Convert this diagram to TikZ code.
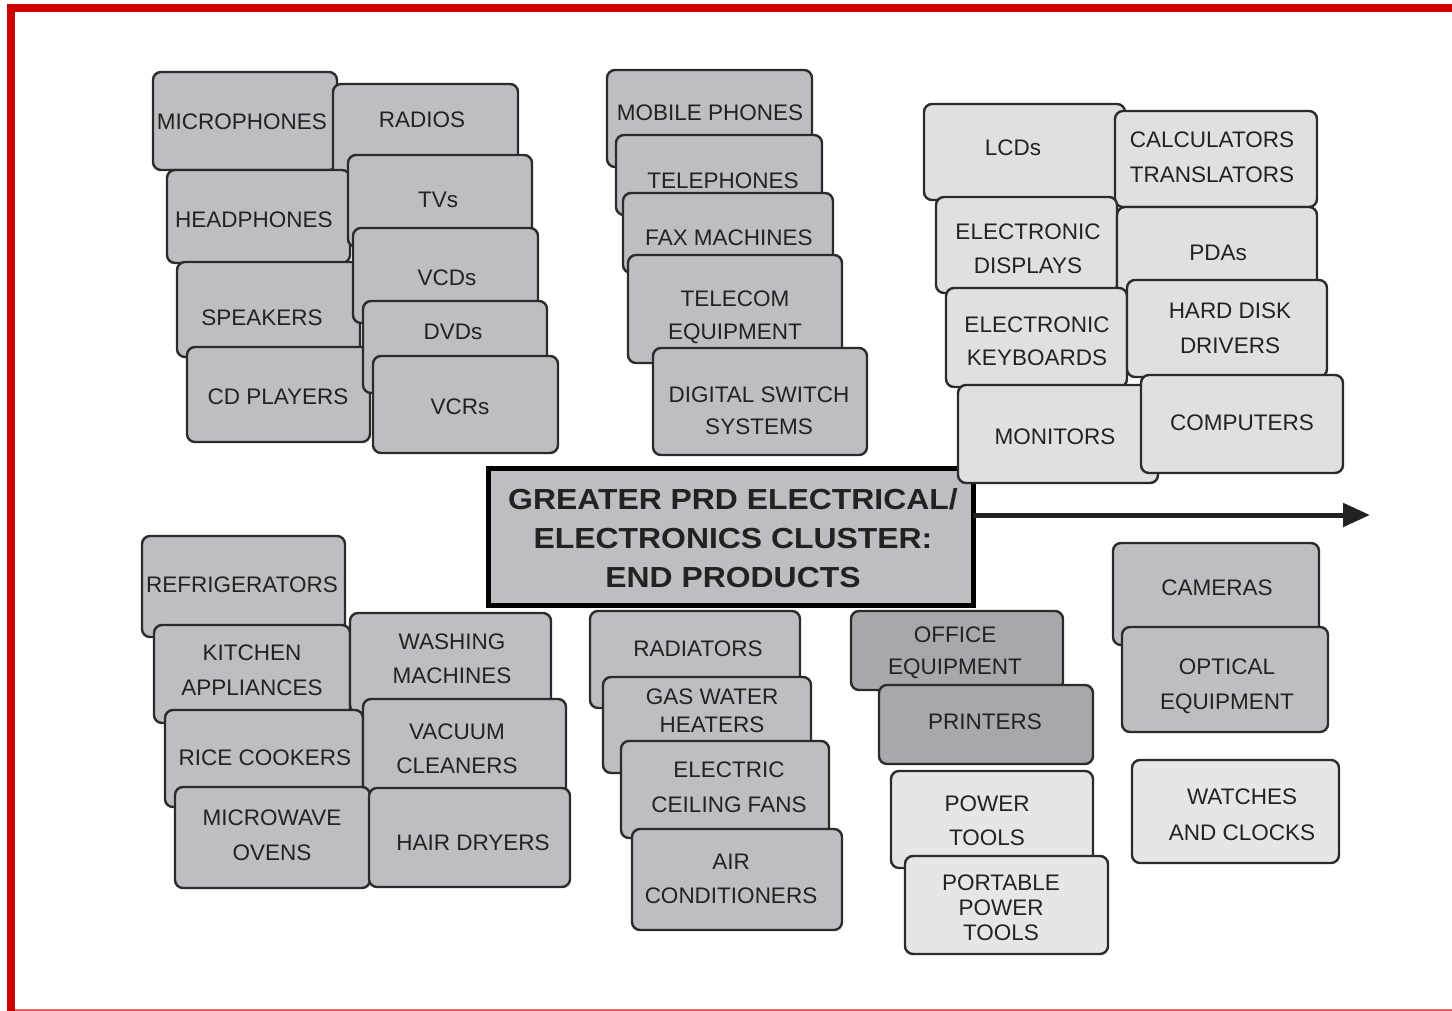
\documentclass[tikz,border=0pt]{standalone}
\usepackage{graphicx}
\usepackage{fontspec}
\setmainfont{Liberation Sans}
\usetikzlibrary{arrows.meta}
\definecolor{midg}{HTML}{BDBEC1}
\definecolor{liteg}{HTML}{DFE0E2}
\definecolor{paleg}{HTML}{E6E6E8}
\definecolor{darkg}{HTML}{A7A8AB}
\definecolor{edgec}{HTML}{2B2B2B}
\definecolor{inkc}{HTML}{222222}
\definecolor{framec}{HTML}{CC0000}
\tikzset{
  pbox/.style={draw=edgec, line width=2.4pt, rounded corners=8pt, inner sep=0pt, outer sep=0pt, anchor=north west},
  lbl/.style={text=inkc, align=center, inner sep=0pt},
  titlebox/.style={draw=black, line width=5pt, fill=midg, inner sep=0pt, outer sep=0pt, anchor=north west},
  mainarrow/.style={draw=inkc, line width=5pt, -{Triangle[length=27pt,width=23pt]}},
}
\newcommand\bx[6]{\node[pbox, fill=#6, minimum width={#4pt-#2pt}, minimum height={#5pt-#3pt}] (#1) at (#2,#3) {};}
\newcommand\tx[5]{\node[lbl, font=\fontsize{22.5}{#4}\selectfont] (#1) at (#2,#3) {#5};}
\begin{document}
\begin{tikzpicture}[x=1pt,y=-1pt]
\useasboundingbox (0,0) rectangle (1452,1011);
\fill[white] (0,0) rectangle (1452,1011);
% frame
\fill[framec] (7,4) rectangle (1452,12);
\fill[framec] (7,4) rectangle (15,1011);
\draw[framec!60, line width=1.5pt] (15,1010) -- (1452,1010);

% group 1
\bx{mic}{153}{72}{337}{170}{midg}
\tx{tmic}{242}{122}{35}{MICROPHONES}
\bx{rad}{333}{84}{518}{178}{midg}
\tx{trad}{422}{120}{35}{RADIOS}
\bx{hph}{167}{170}{350}{263}{midg}
\tx{thph}{254}{220}{35}{HEADPHONES}
\bx{tv}{348}{155}{532}{247}{midg}
\tx{ttv}{438}{200}{35}{TVs}
\bx{spk}{177}{262}{360}{357}{midg}
\tx{tspk}{262}{318}{35}{SPEAKERS}
\bx{vcd}{353}{228}{538}{323}{midg}
\tx{tvcd}{447}{278}{35}{VCDs}
\bx{cdp}{187}{347}{370}{442}{midg}
\tx{tcdp}{278}{397}{35}{CD PLAYERS}
\bx{dvd}{363}{301}{547}{393}{midg}
\tx{tdvd}{453}{332}{35}{DVDs}
\bx{vcr}{373}{356}{558}{453}{midg}
\tx{tvcr}{460}{407}{35}{VCRs}

% group 2
\bx{mob}{607}{70}{812}{167}{midg}
\tx{tmob}{710}{113}{35}{MOBILE PHONES}
\bx{tel}{616}{135}{822}{215}{midg}
\tx{ttel}{723}{181}{35}{TELEPHONES}
\bx{fax}{623}{193}{833}{273}{midg}
\tx{tfax}{729}{238}{35}{FAX MACHINES}
\bx{tcm}{628}{255}{842}{363}{midg}
\tx{ttcm}{735}{317}{33}{TELECOM\\EQUIPMENT}
\bx{dss}{653}{348}{867}{455}{midg}
\tx{tdss}{759}{411}{32}{DIGITAL SWITCH\\SYSTEMS}

% group 3
\bx{lcd}{924}{104}{1125}{200}{liteg}
\tx{tlcd}{1013}{148}{35}{LCDs}
\bx{cal}{1115}{111}{1317}{207}{liteg}
\tx{tcal}{1212}{157}{35}{CALCULATORS\\TRANSLATORS}
\bx{edp}{936}{197}{1117}{293}{liteg}
\tx{tedp}{1028}{249}{34}{ELECTRONIC\\DISPLAYS}
\bx{pda}{1117}{207}{1317}{302}{liteg}
\tx{tpda}{1218}{253}{35}{PDAs}
\bx{ekb}{946}{288}{1127}{387}{liteg}
\tx{tekb}{1037}{341}{33}{ELECTRONIC\\KEYBOARDS}
\bx{hdd}{1127}{280}{1327}{377}{liteg}
\tx{thdd}{1230}{328}{35}{HARD DISK\\DRIVERS}

% title
\node[titlebox, minimum width=485pt, minimum height=137pt] (title) at (488,468) {};
\node[lbl, font=\fontsize{29}{39}\bfseries\selectfont] (ttitle) at (733,538)
  {\scalebox{1.1}[1]{GREATER PRD ELECTRICAL/}\\\scalebox{1.1}[1]{ELECTRONICS CLUSTER:}\\\scalebox{1.1}[1]{END PRODUCTS}};
\coordinate (tip) at (1370,515);
\draw[mainarrow] (title.east |- tip) -- (tip);

\bx{mon}{958}{385}{1158}{483}{liteg}
\tx{tmon}{1055}{437}{35}{MONITORS}
\bx{cmp}{1141}{375}{1343}{473}{liteg}
\tx{tcmp}{1242}{423}{35}{COMPUTERS}

% group 4
\bx{ref}{142}{536}{345}{637}{midg}
\tx{tref}{242}{585}{35}{REFRIGERATORS}
\bx{kit}{154}{625}{350}{723}{midg}
\tx{tkit}{252}{670}{35}{KITCHEN\\APPLIANCES}
\bx{was}{350}{613}{551}{713}{midg}
\tx{twas}{452}{659}{34}{WASHING\\MACHINES}
\bx{ric}{165}{710}{363}{807}{midg}
\tx{tric}{265}{758}{35}{RICE COOKERS}
\bx{vac}{363}{699}{566}{797}{midg}
\tx{tvac}{457}{749}{34}{VACUUM\\CLEANERS}
\bx{mcw}{175}{787}{370}{888}{midg}
\tx{tmcw}{272}{835}{35}{MICROWAVE\\OVENS}
\bx{hair}{369}{788}{570}{887}{midg}
\tx{thair}{473}{843}{35}{HAIR DRYERS}

% group 5
\bx{radi}{590}{611}{800}{708}{midg}
\tx{tradi}{698}{649}{35}{RADIATORS}
\bx{gas}{603}{677}{811}{773}{midg}
\tx{tgas}{712}{711}{28}{GAS WATER\\HEATERS}
\bx{ecf}{621}{741}{829}{838}{midg}
\tx{tecf}{729}{787}{35}{ELECTRIC\\CEILING FANS}
\bx{air}{632}{829}{842}{930}{midg}
\tx{tair}{731}{879}{34}{AIR\\CONDITIONERS}

% group 6
\bx{off}{851}{611}{1063}{690}{darkg}
\tx{toff}{955}{653}{32}{OFFICE\\EQUIPMENT}
\bx{prn}{879}{685}{1093}{764}{darkg}
\tx{tprn}{985}{722}{35}{PRINTERS}
\bx{pwt}{891}{771}{1093}{868}{paleg}
\tx{tpwt}{987}{821}{34}{POWER\\TOOLS}
\bx{ppt}{905}{856}{1108}{954}{paleg}
\tx{tppt}{1001}{908}{25}{PORTABLE\\POWER\\TOOLS}

% group 7
\bx{cam}{1113}{543}{1319}{645}{midg}
\tx{tcam}{1217}{588}{35}{CAMERAS}
\bx{opt}{1122}{627}{1328}{732}{midg}
\tx{topt}{1227}{686}{35}{OPTICAL\\EQUIPMENT}
\bx{wat}{1132}{760}{1339}{863}{paleg}
\tx{twat}{1242}{815}{36}{WATCHES\\AND CLOCKS}
\end{tikzpicture}
\end{document}
